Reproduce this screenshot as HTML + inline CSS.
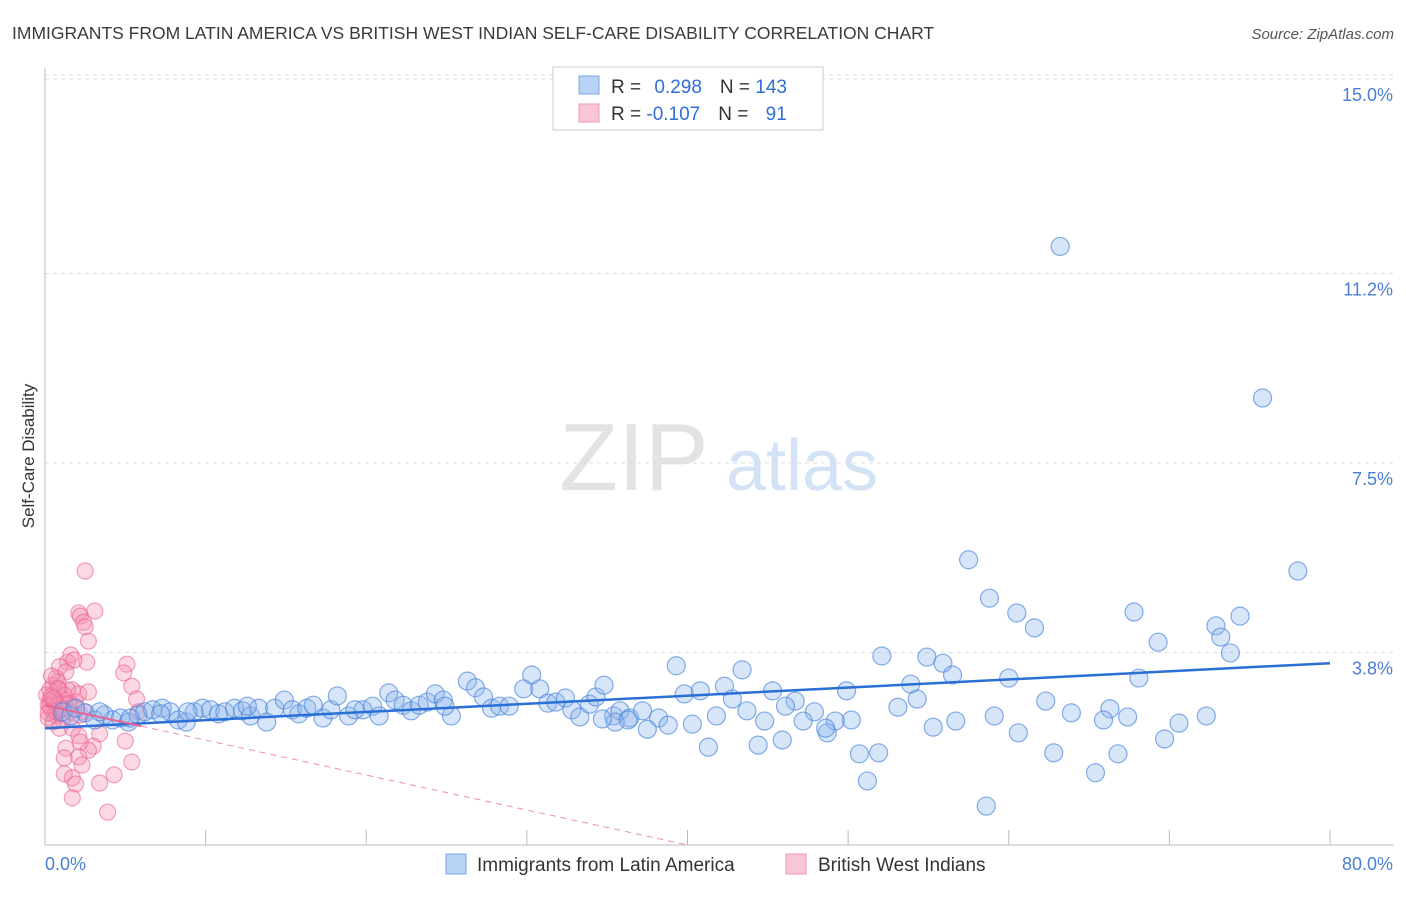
<!DOCTYPE html>
<html><head><meta charset="utf-8"><style>
body{margin:0;background:#fff;font-family:"Liberation Sans",sans-serif;}
svg text{font-family:"Liberation Sans",sans-serif;}
</style></head><body>
<svg id="chart" width="1406" height="892">
<text x="12" y="39" font-size="17.5" fill="#3a3a3a">IMMIGRANTS FROM LATIN AMERICA VS BRITISH WEST INDIAN SELF-CARE DISABILITY CORRELATION CHART</text>
<text x="1394" y="39" font-size="15" fill="#555" text-anchor="end" font-style="italic">Source: ZipAtlas.com</text>
<g>
<text x="634" y="490" font-size="96" fill="#ddd" font-family="Liberation Serif" text-anchor="middle" opacity="0.8">ZIP</text>
<text x="802" y="490" font-size="72" fill="#c9dbf3" text-anchor="middle" opacity="0.8">atlas</text>
</g>
<g id="grid"></g>
<g id="axes"></g>
<g id="pts"></g>
<g id="lines"></g>
<text transform="translate(34,456) rotate(-90)" font-size="17" fill="#333" text-anchor="middle">Self-Care Disability</text>
<text x="45" y="870" font-size="18" fill="#4a7fd4">0.0%</text>
<text x="1393" y="870" font-size="18" fill="#4a7fd4" text-anchor="end">80.0%</text>
<g>
<rect x="553" y="67" width="270" height="63" fill="#fff" stroke="#ccc"/>
<rect x="579" y="76" width="20" height="18" fill="#b9d3f5" stroke="#7aa7e6"/>
<rect x="579" y="104" width="20" height="18" fill="#f9c6d6" stroke="#ee99b4"/>
<text x="611" y="93" font-size="19" fill="#333">R = <tspan fill="#2f6fd6" dx="8">0.298</tspan><tspan dx="18" fill="#333">N = </tspan><tspan fill="#2f6fd6">143</tspan></text>
<text x="611" y="120" font-size="19" fill="#333">R = <tspan fill="#2f6fd6">-0.107</tspan><tspan dx="18" fill="#333">N = </tspan><tspan fill="#2f6fd6" dx="12">91</tspan></text>
</g>
<g>
<rect x="446" y="854" width="20" height="20" fill="#b9d3f5" stroke="#7aa7e6"/>
<text x="477" y="871" font-size="19" fill="#333">Immigrants from Latin America</text>
<rect x="786" y="854" width="20" height="20" fill="#f9c6d6" stroke="#ee99b4"/>
<text x="818" y="871" font-size="19" fill="#333">British West Indians</text>
</g>
</svg>
<script>
const yTicks=[3.8,7.5,11.2,15.0];
const yTickLabels=["3.8%","7.5%","11.2%","15.0%"];
const xTicks=[0,10,20,30,40,50,60,70,80];
const blueX=[63.2,75.8,57.5,78.0,58.8,60.5,67.8,74.4,61.6,72.9,73.2,69.3,73.8,52.1,54.9,55.9,56.5,39.3,43.4,60.0,68.1,53.9,42.3,45.3,49.9,39.8,40.8,54.3,62.3,46.7,42.8,46.1,53.1,66.3,43.7,41.8,47.9,63.9,59.1,67.4,72.3,65.9,50.2,49.2,47.2,44.8,56.7,70.6,55.3,48.7,48.6,40.3,60.6,45.9,44.4,41.3,69.7,51.9,50.7,62.8,66.8,65.4,51.2,58.6,
19.8,20.4,20.8,21.4,21.8,22.3,22.8,23.3,23.8,24.3,24.8,25.3,24.9,26.3,26.8,27.3,27.8,28.3,28.9,29.8,30.3,30.8,31.3,31.8,32.4,32.8,33.3,33.9,34.3,34.8,35.4,35.8,36.4,37.2,38.2,38.8,37.5,35.5,36.3,34.7,
2.5,3.1,3.7,4.2,4.7,5.2,5.8,6.2,6.7,7.3,7.8,8.3,8.8,9.3,9.8,10.3,10.8,11.2,11.8,12.3,12.8,13.3,13.8,14.3,14.9,15.4,15.8,16.3,16.7,17.3,17.8,18.2,18.9,19.3,1.1,1.6,1.9,8.9,7.2,12.6,3.4,5.3];
const blueY=[11.73,8.77,5.61,5.39,4.86,4.57,4.59,4.51,4.28,4.32,4.10,4.00,3.79,3.73,3.71,3.59,3.36,3.54,3.46,3.30,3.30,3.18,3.14,3.05,3.05,2.99,3.05,2.89,2.85,2.85,2.89,2.75,2.73,2.70,2.66,2.56,2.64,2.62,2.56,2.54,2.56,2.48,2.48,2.46,2.46,2.46,2.46,2.42,2.34,2.23,2.32,2.40,2.23,2.09,1.99,1.95,2.11,1.84,1.82,1.84,1.82,1.45,1.29,0.80,
2.68,2.75,2.56,3.01,2.87,2.77,2.66,2.77,2.83,2.99,2.87,2.56,2.75,3.24,3.11,2.93,2.71,2.75,2.75,3.09,3.36,3.09,2.81,2.83,2.91,2.68,2.54,2.79,2.93,3.16,2.56,2.66,2.52,2.66,2.52,2.38,2.30,2.44,2.48,2.50,
2.62,2.48,2.58,2.48,2.52,2.44,2.58,2.64,2.68,2.71,2.64,2.48,2.44,2.64,2.71,2.68,2.60,2.64,2.71,2.66,2.56,2.71,2.44,2.71,2.87,2.68,2.60,2.71,2.77,2.52,2.68,2.95,2.56,2.68,2.64,2.56,2.71,2.64,2.60,2.75,2.64,2.52];
const pinkX=[2.5,2.1,2.2,3.1,2.4,2.5,2.7,2.6,1.4,0.9,1.6,1.8,5.1,4.9,5.4,5.7,5.8,1.3,0.7,0.5,0.9,1.7,1.9,2.1,2.7,1.2,0.3,0.4,0.6,0.8,1.1,1.3,1.6,0.2,0.3,0.5,0.9,1.7,2.1,2.2,3.0,3.4,5.0,2.7,1.3,1.2,2.1,2.3,5.4,1.2,1.7,1.9,3.4,4.3,1.7,3.9,0.1,0.2,0.7,1.2,1.4,0.8,0.4,1.8,2.2,2.5,0.9,0.3,0.6,1.0,1.5,0.4,0.8,1.1,0.2,0.5];
const pinkY=[5.39,4.57,4.51,4.61,4.39,4.30,4.02,3.61,3.61,3.52,3.75,3.65,3.57,3.40,3.14,2.89,2.64,3.42,3.30,3.16,3.07,3.07,2.83,2.99,3.03,2.97,2.87,2.68,2.58,2.77,2.48,2.71,2.64,2.52,3.07,2.44,2.32,2.32,2.17,2.05,1.97,2.21,2.07,1.89,1.93,1.74,1.76,1.60,1.66,1.43,1.35,1.23,1.25,1.41,0.96,0.68,2.97,2.77,2.64,2.87,3.07,3.22,3.34,2.75,2.58,2.64,2.68,2.75,2.85,2.60,2.80,2.95,3.10,2.70,2.62,2.90];
const blueTrend=[2.32,3.59];
const pinkTrend=[2.77,0.04];
const NS="http://www.w3.org/2000/svg";
const X0=45,X1=1330,Y0=847,PX=51.2;
function sx(v){return X0+v/80*(X1-X0);}
function sy(v){return Y0-v*PX;}
function mk(tag,attrs,parent){const e=document.createElementNS(NS,tag);for(const k in attrs)e.setAttribute(k,attrs[k]);parent.appendChild(e);return e;}
const grid=document.getElementById('grid'),axes=document.getElementById('axes'),pts=document.getElementById('pts'),lines=document.getElementById('lines');
yTicks.forEach((t,i)=>{
 const l=mk('line',{x1:X0,x2:1394,y1:sy(t),y2:sy(t),stroke:'#ddd','stroke-dasharray':'4,4'},grid);
 
 
 const tx=mk('text',{x:1393,y:sy(t)+22,'font-size':18,fill:'#4a7fd4','text-anchor':'end'},grid);
 tx.textContent=yTickLabels[i];
 
 
});
const g15=mk('line',{x1:X0,x2:1394,y1:sy(15)-4,y2:sy(15)-4,stroke:'#ddd','stroke-dasharray':'4,4'},grid);
mk('line',{x1:X0,x2:X0,y1:68,y2:845,stroke:'#bbb'},axes);
mk('line',{x1:X0,x2:1394,y1:845,y2:845,stroke:'#bbb'},axes);
xTicks.forEach(t=>{
 const l=mk('line',{x1:sx(t),x2:sx(t),y1:830,y2:845,stroke:'#bbb'},axes);
 
 
});
pinkX.forEach((x,i)=>{
 const c=mk('circle',{cx:sx(x),cy:sy(pinkY[i]),r:8,fill:'rgba(244,143,177,0.35)',stroke:'rgba(236,100,145,0.6)','stroke-width':1.2},pts);
 
 
});
blueX.forEach((x,i)=>{
 const c=mk('circle',{cx:sx(x),cy:sy(blueY[i]),r:9,fill:'rgba(140,180,235,0.35)',stroke:'rgba(70,130,220,0.65)','stroke-width':1.2},pts);
 
 
});
const bl=mk('line',{x1:sx(0),y1:sy(blueTrend[0]),x2:sx(80),y2:sy(blueTrend[1]),stroke:'#2a6fd6','stroke-width':2.5},lines);


const pxEnd=40, pSolid=6;
const pyAt=v=>pinkTrend[0]+(pinkTrend[1]-pinkTrend[0])*v/pxEnd;
const ps=mk('line',{x1:sx(0),y1:sy(pinkTrend[0]),x2:sx(pSolid),y2:sy(pyAt(pSolid)),stroke:'#e8648f','stroke-width':2},lines);


const pd=mk('line',{x1:sx(pSolid),y1:sy(pyAt(pSolid)),x2:sx(pxEnd),y2:sy(pinkTrend[1]),stroke:'#ec8fae','stroke-width':1,'stroke-dasharray':'6,5'},lines);


</script>
</body></html>
